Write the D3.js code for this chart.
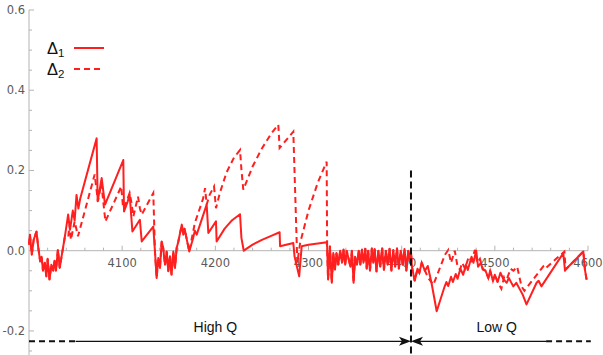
<!DOCTYPE html>
<html>
<head>
<meta charset="utf-8">
<script src="https://cdn.jsdelivr.net/npm/d3@7"></script>
<style>
  body { margin: 0; background: #fff; }
  svg { display: block; font-family: "DejaVu Sans", "Noto Sans", sans-serif; }
</style>
</head>
<body>
<svg id="chart" width="603" height="355"></svg>
<script>
// noise stretches shared by both series
const noiseA = [[4000,0.015],[4001,0.04],[4003,-0.01],[4005,0.027],[4008,0.048],[4010,0.007],[4012,-0.027],[4013.5,-0.015],[4015,-0.05],[4017,-0.03],[4018.6,-0.064],[4020,-0.02],[4022,-0.072],[4024,-0.035],[4026,-0.05],[4027.5,-0.025],[4029,-0.05],[4031,0.002],[4033,-0.043],[4034.7,-0.018],[4036.5,0.007],[4038.3,0.032]];
const noiseB = [[4135.2,-0.002],[4137,-0.068],[4138.8,-0.018],[4140.6,-0.043],[4142.4,0.023],[4144,0.007],[4146,-0.035],[4147.8,-0.002],[4149.5,-0.051],[4151.3,-0.014],[4153,-0.06],[4154.9,-0.002],[4156.7,-0.043],[4158.5,0.007],[4160.3,0.023],[4164,0.065],[4165.6,0.04],[4167,0.055],[4169,0.032],[4172,-0.002]];
const noiseC = [[4320,0.011],[4321,-0.072],[4323,0.011],[4325,-0.08],[4326.6,-0.006],[4328.4,-0.047],[4330,-0.006],[4332,-0.035],[4334,0.0],[4336,-0.03],[4337.6,0.003],[4339.4,-0.035],[4341,0.0],[4345,-0.04],[4346.6,0.0],[4348.4,-0.08],[4350,-0.015],[4352,-0.035],[4354,0.0],[4355.6,-0.035],[4357.4,0.003],[4359,-0.03],[4361,0.005],[4362.5,-0.045],[4364,0.0],[4366,-0.05],[4368,0.006],[4369.5,-0.03],[4371,0.004],[4373,-0.052],[4375,0.0],[4377,-0.04],[4379,0.006],[4381,-0.048],[4383,0.0],[4385,-0.035],[4387,0.005],[4389,-0.05],[4391,0.002],[4393,-0.04],[4395,0.006],[4397,-0.045],[4399,0.0],[4401,-0.035],[4403,0.004],[4405,-0.05],[4407,0.0],[4409,-0.03],[4410,0.0],[4411,-0.04],[4414,-0.075],[4417,-0.045],[4419,-0.055],[4421.5,-0.03],[4425,-0.05]];
const tailD = [[4576,-0.047],[4595,-0.002],[4596.7,-0.047],[4598.5,-0.072]];

// Delta 1 (solid)
const d1a = [[4042,0.09],[4044,0.052],[4047,0.1],[4049,0.075],[4051,0.139],[4053,0.105],[4055,0.13],[4072.6,0.28],[4073.7,0.123],[4078,0.181],[4081.6,0.115],[4101.2,0.226],[4102,0.098],[4106,0.123],[4108,0.14],[4111,0.048],[4119,0.077],[4121,0.023],[4133.4,0.06]];
const d1b = [[4176,0.03],[4178,0.05],[4180,0.04],[4190.7,0.115],[4192.5,0.044],[4200.7,0.073],[4201.4,0.023],[4210,0.055],[4218,0.076],[4226.5,0.091],[4228,0.032],[4230.5,0.0],[4240,0.015],[4250,0.027],[4260,0.037],[4269,0.046],[4269.5,0.011],[4283.7,0.019],[4285,-0.014],[4290,-0.064],[4292.7,0.011],[4300,0.015],[4310,0.018],[4319.5,0.021]];
const d1c = [[4428,-0.038],[4432,-0.08],[4437.6,-0.151],[4446,-0.09],[4448,-0.078],[4450,-0.088],[4453,-0.065],[4455,-0.078],[4458,-0.058],[4460,-0.07],[4463,-0.045],[4466,-0.06],[4469,-0.035],[4471,-0.048],[4475,-0.015],[4477,-0.03],[4480,0.0],[4482,-0.04],[4485,-0.03],[4487,-0.047],[4490,-0.05],[4493,-0.068],[4495,-0.05],[4498,-0.075],[4500,-0.06],[4503,-0.078],[4506,-0.055],[4509,-0.07],[4512.7,-0.08],[4515,-0.068],[4519.8,-0.089],[4523,-0.08],[4527,-0.097],[4530,-0.11],[4534,-0.134],[4544.8,-0.08],[4547,-0.075],[4550,-0.089],[4573.5,-0.006],[4575.3,-0.05]];

// Delta 2 (dashed)
const d2a = [[4042,0.032],[4043.6,0.065],[4045,0.027],[4049,0.073],[4052.6,0.036],[4070.5,0.19],[4072.6,0.15],[4074,0.123],[4077.6,0.168],[4082,0.073],[4099,0.16],[4101,0.106],[4104,0.118],[4108,0.144],[4110,0.12],[4112,0.085],[4117,0.135],[4119,0.106],[4121,0.09],[4133.4,0.144]];
const d2b = [[4178,0.069],[4184,0.11],[4187,0.131],[4189,0.156],[4190.7,0.115],[4194,0.14],[4198.6,0.16],[4200.7,0.106],[4205,0.145],[4212,0.195],[4220,0.232],[4226.5,0.251],[4228,0.202],[4230,0.152],[4240,0.21],[4250,0.255],[4260,0.292],[4267.6,0.314],[4269,0.256],[4283.7,0.297],[4288,-0.03],[4291,0.019],[4300,0.1],[4310,0.17],[4319.5,0.222]];
const d2c = [[4428.6,-0.068],[4434,-0.085],[4446.5,-0.01],[4450,0.002],[4453,-0.03],[4455,-0.015],[4457,0.0],[4460,-0.04],[4462.6,-0.047],[4465,-0.03],[4468,-0.045],[4472,-0.015],[4475,-0.025],[4478.7,0.002],[4481,-0.03],[4484,-0.02],[4487,-0.045],[4490,-0.05],[4493,-0.068],[4495,-0.05],[4498,-0.075],[4500,-0.06],[4503,-0.078],[4507,-0.095],[4510,-0.065],[4513,-0.07],[4517,-0.045],[4520,-0.05],[4524,-0.04],[4528.6,-0.089],[4531.7,-0.1],[4552,-0.039],[4554,-0.045],[4574.7,-0.002]];

const xMajor = [4100, 4200, 4300, 4400, 4500, 4600];
const yMajor = [-0.2, 0.0, 0.2, 0.4, 0.6];
const seriesNames = ["1", "2"];
const splitX = 4410;
const regionLabels = [["High Q", 4200], ["Low Q", 4502]];

const delta1 = [].concat(noiseA, d1a, noiseB, d1b, noiseC, d1c, tailD);
const delta2 = [].concat(noiseA, d2a, noiseB, d2b, noiseC, d2c, tailD);

const svg = d3.select("#chart");
const x = d3.scaleLinear().domain([4000, 4600]).range([29, 588]);
const y = d3.scaleLinear().domain([-0.26, 0.6]).range([355, 10]);
const red = "#ff1f1f";
const axisCol = "#b4b4b4";
const labCol = "#5a5a5a";

// axes lines
svg.append("line").attr("x1", x(4000)).attr("x2", x(4000))
  .attr("y1", y(0.6)).attr("y2", 355).attr("stroke", axisCol);
svg.append("line").attr("x1", x(4000)).attr("x2", x(4600))
  .attr("y1", y(0)).attr("y2", y(0)).attr("stroke", axisCol);

// y ticks
const yMinor = d3.range(-0.25, 0.6001, 0.05).filter(v => !yMajor.some(m => Math.abs(m - v) < 1e-6));
svg.selectAll(".ymin").data(yMinor).enter().append("line")
  .attr("x1", x(4000)).attr("x2", x(4000) + 3)
  .attr("y1", d => y(d)).attr("y2", d => y(d)).attr("stroke", axisCol);
svg.selectAll(".ymaj").data(yMajor).enter().append("line")
  .attr("x1", x(4000)).attr("x2", x(4000) + 5)
  .attr("y1", d => y(d)).attr("y2", d => y(d)).attr("stroke", axisCol);
svg.selectAll(".ylab").data(yMajor).enter().append("text")
  .attr("x", x(4000) - 4).attr("y", d => y(d)).attr("dy", "0.35em")
  .attr("text-anchor", "end").attr("font-size", 11.5).attr("fill", labCol)
  .text(d => d3.format(".1f")(d).replace("\u2212", "-"));

// x ticks
const xMinor = d3.range(4020, 4600, 20).filter(v => v % 100 !== 0);
svg.selectAll(".xmin").data(xMinor).enter().append("line")
  .attr("x1", d => x(d)).attr("x2", d => x(d))
  .attr("y1", y(0)).attr("y2", y(0) - 3).attr("stroke", axisCol);
svg.selectAll(".xmaj").data(xMajor).enter().append("line")
  .attr("x1", d => x(d)).attr("x2", d => x(d))
  .attr("y1", y(0)).attr("y2", y(0) - 5).attr("stroke", axisCol);
svg.selectAll(".xlab").data(xMajor).enter().append("text")
  .attr("x", d => x(d)).attr("y", y(0) + 16)
  .attr("text-anchor", "middle").attr("font-size", 11.5).attr("fill", labCol)
  .text(d => d);

// series
const line = d3.line().x(d => x(d[0])).y(d => y(d[1]));
svg.append("path").datum(delta2).attr("d", line).attr("fill", "none")
  .attr("stroke", red).attr("stroke-width", 2).attr("stroke-dasharray", "6,4");
svg.append("path").datum(delta1).attr("d", line).attr("fill", "none")
  .attr("stroke", red).attr("stroke-width", 2).attr("stroke-linejoin", "round");

// split marker
svg.append("line").attr("x1", x(splitX)).attr("x2", x(splitX))
  .attr("y1", y(0.2)).attr("y2", 355)
  .attr("stroke", "#111").attr("stroke-width", 2).attr("stroke-dasharray", "7,4");

// region arrows
const ay = y(-0.226);
svg.append("line").attr("x1", x(4000)).attr("x2", x(4050)).attr("y1", ay).attr("y2", ay)
  .attr("stroke", "#111").attr("stroke-width", 2).attr("stroke-dasharray", "6,4");
svg.append("line").attr("x1", x(4050)).attr("x2", x(splitX) - 9).attr("y1", ay).attr("y2", ay)
  .attr("stroke", "#111").attr("stroke-width", 1.3);
svg.append("line").attr("x1", x(splitX) + 9).attr("x2", x(4555)).attr("y1", ay).attr("y2", ay)
  .attr("stroke", "#111").attr("stroke-width", 1.3);
svg.append("line").attr("x1", x(4555)).attr("x2", x(4603)).attr("y1", ay).attr("y2", ay)
  .attr("stroke", "#111").attr("stroke-width", 2).attr("stroke-dasharray", "6,4");
const sx = x(splitX);
svg.append("path").attr("d", `M${sx},${ay} L${sx - 12},${ay - 4.5} L${sx - 9},${ay} L${sx - 12},${ay + 4.5} Z`).attr("fill", "#111");
svg.append("path").attr("d", `M${sx},${ay} L${sx + 12},${ay - 4.5} L${sx + 9},${ay} L${sx + 12},${ay + 4.5} Z`).attr("fill", "#111");
svg.selectAll(".reg").data(regionLabels).enter().append("text")
  .attr("x", d => x(d[1])).attr("y", ay - 9)
  .attr("text-anchor", "middle").attr("font-size", 14).attr("fill", "#111")
  .attr("font-family", "Liberation Sans, Arial, sans-serif")
  .text(d => d[0]);

// legend
const leg = svg.selectAll(".leg").data(seriesNames).enter().append("g")
  .attr("transform", (d, i) => `translate(47,${48 + i * 21})`);
const lt = leg.append("text").attr("y", 6).attr("font-size", 16.5).attr("fill", "#111")
  .attr("font-family", "Liberation Sans, Arial, sans-serif");
lt.append("tspan").text("\u0394");
lt.append("tspan").attr("dy", 3).attr("font-size", 11.5).text(d => d);
leg.append("line").attr("x1", 27).attr("x2", 57).attr("y1", 0).attr("y2", 0)
  .attr("stroke", red).attr("stroke-width", 2)
  .attr("stroke-dasharray", (d, i) => i === 0 ? null : "6,4");
</script>
</body>
</html>
